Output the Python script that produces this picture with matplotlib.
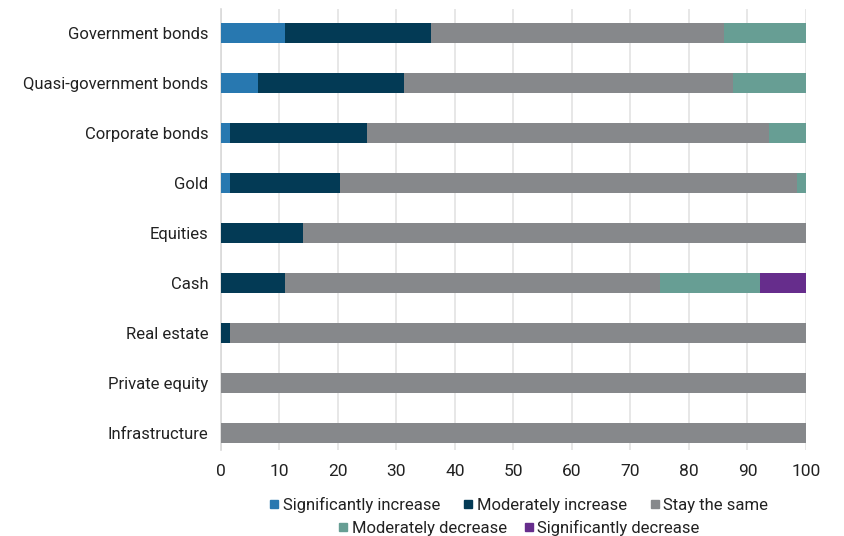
import matplotlib
matplotlib.use("Agg")
import matplotlib.pyplot as plt
from matplotlib.lines import Line2D
import numpy as np

plt.rcParams['font.family'] = ['Roboto', 'DejaVu Sans']

categories = ["Government bonds", "Quasi-government bonds", "Corporate bonds", "Gold",
              "Equities", "Cash", "Real estate", "Private equity", "Infrastructure"]
series_names = ["Significantly increase", "Moderately increase", "Stay the same",
                "Moderately decrease", "Significantly decrease"]
sig_increase = [10.94, 6.25, 1.56, 1.56, 0.0, 0.0, 0.0, 0.0, 0.0]
mod_increase = [25.0, 25.0, 23.44, 18.75, 14.06, 10.94, 1.56, 0.0, 0.0]
stay_same = [50.0, 56.25, 68.75, 78.13, 85.94, 64.06, 98.44, 100.0, 100.0]
mod_decrease = [14.06, 12.5, 6.25, 1.56, 0.0, 17.19, 0.0, 0.0, 0.0]
sig_decrease = [0.0, 0.0, 0.0, 0.0, 0.0, 7.81, 0.0, 0.0, 0.0]
x_ticks = [0, 10, 20, 30, 40, 50, 60, 70, 80, 90, 100]

colors = ["#2878b0", "#033a55", "#86888b", "#679e94", "#662d8c"]
series = [sig_increase, mod_increase, stay_same, mod_decrease, sig_decrease]

fig = plt.figure(figsize=(8.45, 5.36), dpi=100)
ax = fig.add_axes([221 / 845, 1 - 450 / 536, 585 / 845, 441 / 536])

y = np.arange(len(categories))
left = np.zeros(len(categories))
for vals, col, name in zip(series, colors, series_names):
    vals = np.array(vals)
    ax.barh(y, vals, left=left, height=0.4, color=col, label=name, zorder=3)
    left += vals

ax.set_ylim(8.34, -0.48)
ax.set_xlim(0, 100)
ax.set_yticks(y)
ax.set_yticklabels(categories, fontsize=12, color="#222222")
ax.set_xticks(x_ticks)
ax.set_xticklabels([str(t) for t in x_ticks], fontsize=12.5, color="#222222")
ax.tick_params(axis="both", length=0, pad=9)
ax.tick_params(axis="x", pad=10)
ax.grid(axis="x", color="#e3e3e3", linewidth=1.2, zorder=0)
for s in ["top", "right", "bottom"]:
    ax.spines[s].set_visible(False)
ax.spines["left"].set_color("#d9d9d9")
ax.spines["left"].set_linewidth(1.2)

handles = [Line2D([], [], marker="s", linestyle="none", markersize=6,
                  markerfacecolor=c, markeredgecolor=c) for c in colors]
leg1 = fig.legend(handles[:3], series_names[:3], loc="center", ncol=3,
                  bbox_to_anchor=(0.613, 1 - 505 / 536), frameon=False, fontsize=12,
                  handletextpad=0.1, columnspacing=1.3, handlelength=0.8,
                  labelcolor="#222222")
leg2 = fig.legend(handles[3:], series_names[3:], loc="center", ncol=2,
                  bbox_to_anchor=(0.613, 1 - 528 / 536), frameon=False, fontsize=12,
                  handletextpad=0.1, columnspacing=0.9, handlelength=0.8,
                  labelcolor="#222222")

fig.savefig("out.png", dpi=100)
